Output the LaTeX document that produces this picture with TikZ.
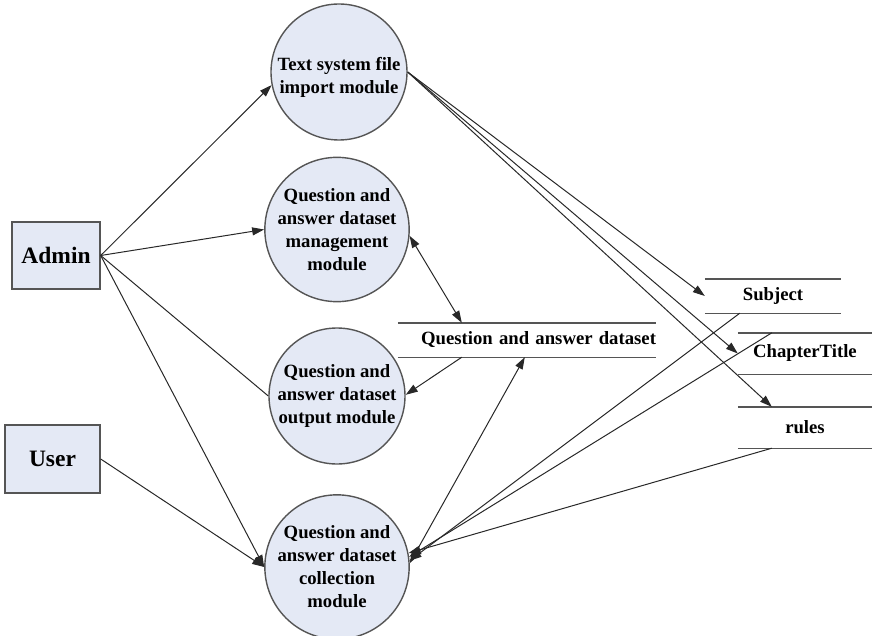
\documentclass[tikz,border=0pt]{standalone}
\usepackage{fontspec}
\setmainfont{Liberation Serif}
\usetikzlibrary{arrows.meta,calc}
\definecolor{bubble}{RGB}{228,233,245}
\definecolor{rim}{RGB}{85,85,85}
\definecolor{wire}{RGB}{40,40,40}
\begin{document}
\begin{tikzpicture}[x=1pt,y=-1pt,
  proc/.style={circle,draw=rim,line width=1.4pt,fill=bubble,minimum size=136pt,
    inner sep=0pt,align=center,font=\bfseries\fontsize{18.7}{23}\selectfont},
  actor/.style={rectangle,draw=rim,line width=1.4pt,fill=bubble,inner sep=0pt,
    font=\bfseries\fontsize{23.5}{27}\selectfont},
  store/.style={inner sep=0pt,font=\bfseries\fontsize{18.7}{22}\selectfont},
  rail/.style={draw=rim,line width=1.4pt},
  link/.style={draw=wire,line width=1pt},
  flow/.style={link,-{Triangle[length=12pt,width=8pt]}},
  dual/.style={link,{Triangle[length=12pt,width=8pt]}-{Triangle[length=12pt,width=8pt]}}
]
\useasboundingbox (0,0) rectangle (872,636);

% external entities
\node[actor,minimum width=88pt,minimum height=67pt] (admin) at (56,255.5) {Admin};
\node[actor,minimum width=95pt,minimum height=68pt] (user) at (52.5,459) {User};

% processes
\node[proc] (c1) at (339,72) {};
\node[align=center,inner sep=0pt,font=\bfseries\fontsize{18.7}{23}\selectfont] (c1t) at (339,77) {Text system file\\import module};
\node[proc] (c2) at (337,229.5) {Question and\\answer dataset\\management\\module};
\node[proc] (c3) at (337,396) {Question and\\answer dataset\\output module};
\node[proc] (c4) at (337,567) {Question and\\answer dataset\\collection\\module};

% data stores
\node[store,text width=258pt,align=right,minimum height=34pt] (ds) at (527,340) {Question and answer dataset};
\node[store,minimum width=136pt,minimum height=34pt] (subj) at (773,296) {Subject};
\node[store,minimum width=134pt,minimum height=41pt] (chap) at (805,353.5) {ChapterTitle};
\node[store,minimum width=134pt,minimum height=41pt] (rules) at (805,427.5) {rules};

\foreach \s in {ds,subj,chap,rules}{
  \draw[rail] (\s.north west) -- (\s.north east);
  \draw[rail] (\s.south west) -- (\s.south east);
}

% attachment points on the store rails
\coordinate (dsA) at ($(ds.north west)+(64,0)$);
\coordinate (dsB) at ($(ds.south west)+(64,0)$);
\coordinate (dsC) at ($(ds.south west)+(127,0)$);
\coordinate (subjOut) at ($(subj.south west)+(35,0)$);
\coordinate (chapOut) at ($(chap.north west)+(34,0)$);
\coordinate (rulesIn) at ($(rules.north west)+(34,0)$);
\coordinate (rulesOut) at ($(rules.south west)+(34,0)$);

% entity flows
\draw[flow] (admin.east) -- (c1.191);
\draw[flow] (admin.east) -- (c2.west);
\draw[link] (admin.east) -- (c3.west);
\draw[flow] (admin.east) -- (c4.west);
\draw[flow] (user.east) -- (c4.west);

% dataset flows
\draw[dual] (c2.-5) -- (dsA);
\draw[flow] (dsB) -- (c3.1);
\draw[dual] (c4.3) -- (dsC);

% import module to its stores
\draw[flow] (c1.east) -- (subj.west);
\draw[flow] (c1.east) -- (chap.west);
\draw[flow] (c1.east) -- (rulesIn);

% stores feeding the collection module
\draw[flow] (subjOut) -- (c4.5);
\draw[flow] (chapOut) -- (c4.8);
\draw[flow] (rulesOut) -- (c4.11);
\end{tikzpicture}
\end{document}
